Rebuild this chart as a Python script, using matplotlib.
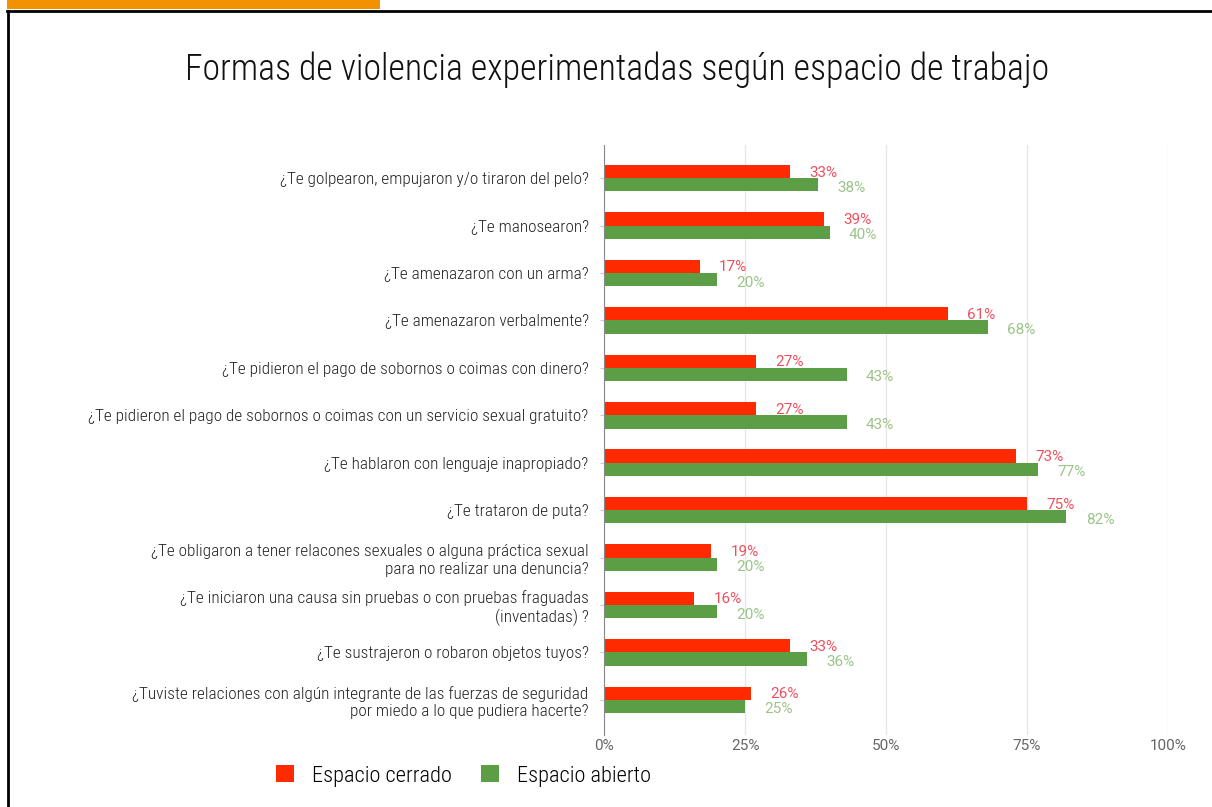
import matplotlib
matplotlib.use("Agg")
import matplotlib.pyplot as plt
from matplotlib import font_manager
from matplotlib.patches import Rectangle, Patch
from matplotlib.lines import Line2D
import numpy as np

categories = [
    "¿Te golpearon, empujaron y/o tiraron del pelo?",
    "¿Te manosearon?",
    "¿Te amenazaron con un arma?",
    "¿Te amenazaron verbalmente?",
    "¿Te pidieron el pago de sobornos o coimas con dinero?",
    "¿Te pidieron el pago de sobornos o coimas con un servicio sexual gratuito?",
    "¿Te hablaron con lenguaje inapropiado?",
    "¿Te trataron de puta?",
    "¿Te obligaron a tener relacones sexuales o alguna práctica sexual\npara no realizar una denuncia?",
    "¿Te iniciaron una causa sin pruebas o con pruebas fraguadas\n(inventadas) ?",
    "¿Te sustrajeron o robaron objetos tuyos?",
    "¿Tuviste relaciones con algún integrante de las fuerzas de seguridad\npor miedo a lo que pudiera hacerte?",
]
cerrado = [33, 39, 17, 61, 27, 27, 73, 75, 19, 16, 33, 26]
abierto = [38, 40, 20, 68, 43, 43, 77, 82, 20, 20, 36, 25]
series_names = ["Espacio cerrado", "Espacio abierto"]
xticks = [0, 25, 50, 75, 100]
title = "Formas de violencia experimentadas según espacio de trabajo"

avail = {f.name for f in font_manager.fontManager.ttflist}
narrow = next((n for n in ["Liberation Sans Narrow", "Arial Narrow", "Roboto Condensed",
                           "Archivo Narrow", "PT Sans Narrow", "IBM Plex Sans Condensed",
                           "Open Sans Condensed"] if n in avail), "DejaVu Sans")
num_font = "Roboto" if "Roboto" in avail else "DejaVu Sans"

RED = "#ff2a00"
GREEN = "#5c9e45"
RED_T = "#f0505e"
GREEN_T = "#9cc488"
WT = "light"

fig = plt.figure(figsize=(12.12, 8.07), dpi=100)
W, H = 1212, 807
renderer = fig.canvas.get_renderer()


def fit_size(text, target_px, base=12):
    t = fig.text(0, 0, text, family=narrow, fontsize=base, weight=WT)
    w = t.get_window_extent(renderer).width
    t.remove()
    return base * target_px / w


lab_size = fit_size(categories[5], 500)
title_size = fit_size(title, 865)
leg_size = fit_size(series_names[0], 140)

ax = fig.add_axes([604 / W, 1 - 735 / H, (1168 - 604) / W, (735 - 145) / H])

y = np.arange(len(categories))
bh = 0.28
ax.barh(y - bh / 2, cerrado, height=bh, color=RED, zorder=3)
ax.barh(y + bh / 2, abierto, height=bh, color=GREEN, zorder=3)
for i in range(len(categories)):
    ax.text(cerrado[i] + 3.4, y[i] - bh / 2 + 0.02, f"{cerrado[i]}%", color=RED_T,
            fontsize=11, family=num_font, va="center", ha="left", zorder=4)
    ax.text(abierto[i] + 3.4, y[i] + bh / 2 + 0.06, f"{abierto[i]}%", color=GREEN_T,
            fontsize=11, family=num_font, va="center", ha="left", zorder=4)

ax.set_xlim(0, 100)
ax.set_ylim(11.74, -0.7)
ax.set_xticks(xticks)
ax.set_xticklabels([f"{t}%" for t in xticks], family=num_font, fontsize=11, color="#666666")
ax.set_yticks(y)
ax.set_yticklabels(categories, family=narrow, weight=WT, fontsize=lab_size, color="#222222")
ax.tick_params(axis="y", length=3, color="#cccccc", pad=8)
ax.tick_params(axis="x", length=0, pad=3)
ax.grid(axis="x", color="#e6e6e6", linewidth=0.9, zorder=0)
for s in ["top", "right", "bottom"]:
    ax.spines[s].set_visible(False)
ax.spines["left"].set_color("#888888")
ax.spines["left"].set_zorder(5)

fig.text(617 / W, 1 - 70 / H, title, family=narrow, weight=WT, fontsize=title_size,
         ha="center", va="center", color="#111111")

# frame and orange tab
fig.add_artist(Rectangle((7 / W, 1 - 9 / H), (380 - 7) / W, 9 / H, transform=fig.transFigure,
                         facecolor="#f39200", edgecolor="none"))
fig.add_artist(Line2D([7 / W, 1], [1 - 11 / H, 1 - 11 / H], transform=fig.transFigure, color="black", lw=2))
fig.add_artist(Line2D([8 / W, 8 / W], [0, 1 - 11 / H], transform=fig.transFigure, color="black", lw=2))

handles = [Patch(facecolor=RED, edgecolor="none"), Patch(facecolor=GREEN, edgecolor="none")]
fig.legend(handles, series_names, loc="center left", bbox_to_anchor=(256 / W, 1 - 776 / H),
           ncol=2, frameon=False, prop={"family": narrow, "weight": WT, "size": leg_size},
           handlelength=0.8, handleheight=0.8, columnspacing=1.3, handletextpad=0.8)

fig.savefig("out.png", dpi=100)
